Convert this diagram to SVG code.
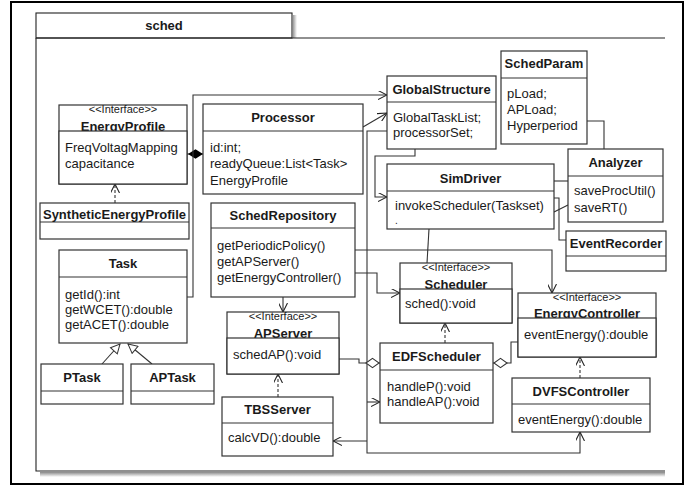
<svg xmlns="http://www.w3.org/2000/svg" width="700" height="487" viewBox="0 0 700 487">
<style>
text{font-family:"Liberation Sans",Arial,sans-serif;fill:#1a1a1a;font-size:13px}
.t{font-weight:bold;text-anchor:middle}
.s{font-size:11px;text-anchor:middle}
.b{fill:#fff;stroke:#333;stroke-width:1.2}
.c{fill:none;stroke:#333;stroke-width:1.1}
.d{stroke-dasharray:3,2}
</style>
<defs>
<marker id="open" viewBox="0 0 10 10" refX="10" refY="5" markerWidth="9" markerHeight="9" markerUnits="userSpaceOnUse" orient="auto"><path d="M0,0 L10,5 L0,10" fill="none" stroke="#222" stroke-width="1.2"/></marker>
<marker id="fdia" viewBox="0 0 16 10" refX="16" refY="5" markerWidth="15" markerHeight="10" markerUnits="userSpaceOnUse" orient="auto"><path d="M0,5 L8,0 L16,5 L8,10 Z" fill="#000"/></marker>
<marker id="hdia" viewBox="0 0 16 12" refX="16" refY="6" markerWidth="15" markerHeight="12" markerUnits="userSpaceOnUse" orient="auto"><path d="M1,6 L8,1 L15,6 L8,11 Z" fill="#fff" stroke="#333" stroke-width="1.1"/></marker>
<marker id="tri" viewBox="0 0 12 12" refX="11" refY="6" markerWidth="11" markerHeight="11" markerUnits="userSpaceOnUse" orient="auto"><path d="M1,1 L11,6 L1,11 Z" fill="#fff" stroke="#333" stroke-width="1.1"/></marker>
<linearGradient id="sh" x1="0" y1="0" x2="0" y2="1"><stop offset="0" stop-color="#888"/><stop offset="1" stop-color="#fff"/></linearGradient>
<linearGradient id="shr" x1="0" y1="0" x2="1" y2="0"><stop offset="0" stop-color="#999"/><stop offset="1" stop-color="#fff"/></linearGradient>
</defs>
<rect x="0" y="0" width="700" height="487" fill="#fff"/>
<rect x="11" y="2" width="672" height="482" fill="none" stroke="#000" stroke-width="2"/>
<g id="package">
<rect x="40" y="472" width="625" height="5" fill="url(#sh)"/>
<rect x="293" y="15" width="4" height="23" fill="url(#shr)"/>
<rect x="36" y="13" width="256" height="25" fill="#fff" stroke="#222" stroke-width="1.1"/>
<path d="M36,38 H665 M36,38 V471 H665" fill="none" stroke="#222" stroke-width="1.1"/>
<text x="164" y="30" class="t">sched</text>
</g>
<g id="connectors">
<path class="c" d="M187,154 H203" marker-end="url(#fdia)"/>
<path class="c" d="M187,297 H193 V95 H387" marker-end="url(#open)"/>
<path class="c" d="M363,127 L387,113" marker-end="url(#open)"/>
<path class="c" d="M387,131 H367 V453 H580 V432" marker-end="url(#open)"/>
<path class="c" d="M367,402 H380" marker-end="url(#open)"/>
<path class="c" d="M367,441 H333" marker-end="url(#open)"/>
<path class="c" d="M415,149 V156 H375 V197 H387" marker-end="url(#open)"/>
<path class="c" d="M587,121 H604 V149"/>
<path class="c" d="M554,181 H568"/>
<path class="c" d="M554,212 L568,205"/>
<path class="c" d="M554,198 H559 V240 H566"/>
<path class="c" d="M429,229 L427,263"/>
<path class="c" d="M355,250 H552 V293" marker-end="url(#open)"/>
<path class="c" d="M355,273 H377 V293 H400" marker-end="url(#open)"/>
<path class="c" d="M283,297 V312" marker-end="url(#open)"/>
<path class="c" d="M339,359 H359 V363 H380" marker-end="url(#hdia)"/>
<path class="c" d="M518,342 H511 V363 H493" marker-end="url(#hdia)"/>
<path class="c d" d="M445,343 V323" marker-end="url(#open)"/>
<path class="c d" d="M580,378 V357" marker-end="url(#open)"/>
<path class="c d" d="M278,397 V374" marker-end="url(#open)"/>
<path class="c d" d="M115,203 V184" marker-end="url(#open)"/>
<path class="c" d="M102,364 L120,344" marker-end="url(#tri)"/>
<path class="c" d="M152,364 L128,344" marker-end="url(#tri)"/>
</g>
<g id="EnergyProfile">
<rect class="b" x="59" y="105" width="128" height="79"/>
<text class="s" x="123" y="113">&lt;&lt;Interface&gt;&gt;</text>
<text class="t" x="123" y="131">EnergyProfile</text>
<rect class="b" x="59" y="131" width="128" height="53"/>
<text x="65" y="152">FreqVoltagMapping</text>
<text x="65" y="168">capacitance</text>
</g>
<g id="Processor">
<rect class="b" x="203" y="104" width="160" height="90"/>
<line class="c" x1="203" y1="131" x2="363" y2="131"/>
<text class="t" x="283" y="122">Processor</text>
<text x="210" y="152">id:int;</text>
<text x="210" y="168">readyQueue:List&lt;Task&gt;</text>
<text x="210" y="185">EnergyProfile</text>
</g>
<g id="GlobalStructure">
<rect class="b" x="387" y="76" width="109" height="73"/>
<line class="c" x1="387" y1="102" x2="496" y2="102"/>
<text class="t" x="441.5" y="94">GlobalStructure</text>
<text x="393" y="122">GlobalTaskList;</text>
<text x="393" y="137">processorSet;</text>
</g>
<g id="SchedParam">
<rect class="b" x="501" y="51" width="86" height="93"/>
<line class="c" x1="501" y1="78" x2="587" y2="78"/>
<text class="t" x="544" y="68">SchedParam</text>
<text x="507" y="98">pLoad;</text>
<text x="507" y="114">APLoad;</text>
<text x="507" y="130">Hyperperiod</text>
</g>
<g id="Analyzer">
<rect class="b" x="568" y="149" width="95" height="73"/>
<line class="c" x1="568" y1="176" x2="663" y2="176"/>
<text class="t" x="615.5" y="167">Analyzer</text>
<text x="574" y="195">saveProcUtil()</text>
<text x="574" y="212">saveRT()</text>
</g>
<g id="SimDriver">
<rect class="b" x="387" y="164" width="167" height="65"/>
<line class="c" x1="387" y1="191" x2="554" y2="191"/>
<text class="t" x="470.5" y="182.5">SimDriver</text>
<text x="395" y="210">invokeScheduler(Taskset)</text>
<text x="395" y="224" style="font-size:10px">.</text>
</g>
<g id="EventRecorder">
<rect class="b" x="566" y="231" width="100" height="40"/>
<line class="c" x1="566" y1="256" x2="666" y2="256"/>
<text class="t" x="616" y="248">EventRecorder</text>
</g>
<g id="SchedRepository">
<rect class="b" x="211" y="203" width="144" height="94"/>
<line class="c" x1="211" y1="228" x2="355" y2="228"/>
<text class="t" x="283" y="220">SchedRepository</text>
<text x="217" y="250">getPeriodicPolicy()</text>
<text x="217" y="266">getAPServer()</text>
<text x="217" y="282">getEnergyController()</text>
</g>
<g id="Scheduler">
<rect class="b" x="400" y="263" width="112" height="60"/>
<text class="s" x="456" y="271">&lt;&lt;Interface&gt;&gt;</text>
<text class="t" x="456" y="289">Scheduler</text>
<rect class="b" x="400" y="289" width="112" height="34"/>
<text x="405" y="308">sched():void</text>
</g>
<g id="EnergyController">
<rect class="b" x="518" y="293" width="138" height="64"/>
<text class="s" x="587" y="301">&lt;&lt;Interface&gt;&gt;</text>
<text class="t" x="587" y="318">EnergyController</text>
<rect class="b" x="518" y="318" width="138" height="39"/>
<text x="524" y="339">eventEnergy():double</text>
</g>
<g id="EDFScheduler">
<rect class="b" x="380" y="343" width="113" height="80"/>
<line class="c" x1="380" y1="370" x2="493" y2="370"/>
<text class="t" x="436.5" y="361">EDFScheduler</text>
<text x="387" y="391">handleP():void</text>
<text x="387" y="406">handleAP():void</text>
</g>
<g id="DVFSController">
<rect class="b" x="512" y="378" width="138" height="54"/>
<line class="c" x1="512" y1="404" x2="650" y2="404"/>
<text class="t" x="581" y="396">DVFSController</text>
<text x="518" y="424">eventEnergy():double</text>
</g>
<g id="APServer">
<rect class="b" x="227" y="312" width="112" height="62"/>
<text class="s" x="283" y="320">&lt;&lt;Interface&gt;&gt;</text>
<text class="t" x="283" y="338">APServer</text>
<rect class="b" x="227" y="338" width="112" height="36"/>
<text x="233" y="359">schedAP():void</text>
</g>
<g id="TBSServer">
<rect class="b" x="222" y="397" width="111" height="59"/>
<line class="c" x1="222" y1="423" x2="333" y2="423"/>
<text class="t" x="277.5" y="414">TBSServer</text>
<text x="228" y="442">calcVD():double</text>
</g>
<g id="Task">
<rect class="b" x="59" y="250" width="128" height="93"/>
<line class="c" x1="59" y1="277" x2="187" y2="277"/>
<text class="t" x="123" y="268">Task</text>
<text x="65" y="299">getId():int</text>
<text x="65" y="314">getWCET():double</text>
<text x="65" y="329">getACET():double</text>
</g>
<g id="PTask">
<rect class="b" x="41" y="364" width="82" height="40"/>
<line class="c" x1="41" y1="391" x2="123" y2="391"/>
<text class="t" x="82" y="382">PTask</text>
</g>
<g id="APTask">
<rect class="b" x="131" y="364" width="83" height="40"/>
<line class="c" x1="131" y1="391" x2="214" y2="391"/>
<text class="t" x="172.5" y="382">APTask</text>
</g>
<g id="SyntheticEnergyProfile">
<rect class="b" x="40" y="203" width="149" height="36"/>
<line class="c" x1="40" y1="222" x2="189" y2="222"/>
<text class="t" x="114.5" y="219">SyntheticEnergyProfile</text>
</g>
</svg>
